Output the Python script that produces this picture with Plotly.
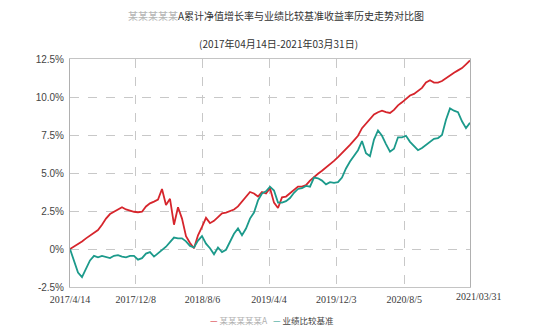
import pandas as pd
import plotly.graph_objects as go

start_date = "2017-04-14"
end_date = "2021-03-31"
n_points = 101
dates = pd.date_range(start_date, end_date, periods=n_points)

fund_name = "某某某某某A"
bench_name = "业绩比较基准"

fund_values = [
    0.0, 0.15, 0.35, 0.5, 0.7, 0.9, 1.05, 1.25, 1.6, 2.0,
    2.3, 2.45, 2.6, 2.75, 2.6, 2.5, 2.45, 2.42, 2.45, 2.8,
    3.0, 3.12, 3.25, 3.95, 2.9, 3.3, 1.6, 2.75, 2.0, 0.85,
    0.4, 0.05, 0.9, 1.45, 2.05, 1.7, 1.85, 2.1, 2.35, 2.4,
    2.5, 2.6, 2.8, 3.1, 3.4, 3.75, 3.65, 3.45, 3.75, 3.65,
    4.0, 3.05, 2.7, 3.4, 3.45, 3.65, 3.9, 4.1, 4.1, 4.2,
    4.5, 4.75, 4.95, 5.15, 5.35, 5.55, 5.8, 6.05, 6.3, 6.55,
    6.85, 7.15, 7.45, 7.95, 8.25, 8.6, 8.85, 9.0, 9.1, 9.0,
    8.95, 9.15, 9.45, 9.65, 9.85, 10.1, 10.2, 10.4, 10.6, 10.95,
    11.1, 10.95, 10.95, 11.05, 11.25, 11.45, 11.6, 11.75, 11.9, 12.15,
    12.4,
]

bench_values = [
    0.0, -0.8, -1.55, -1.85, -1.35, -0.75, -0.45, -0.55, -0.45, -0.55,
    -0.6, -0.45, -0.4, -0.5, -0.55, -0.45, -0.45, -0.7, -0.6, -0.3,
    -0.2, -0.5, -0.3, -0.1, 0.15, 0.45, 0.75, 0.7, 0.7, 0.5,
    0.2, 0.1, 0.55, 0.85, 0.35, 0.05, -0.35, 0.1, -0.2, -0.05,
    0.5, 1.0, 1.35, 0.9, 1.35, 2.0, 2.4, 3.2, 3.65, 3.8,
    4.1, 3.85, 3.05, 3.05, 3.15, 3.35, 3.7, 3.95, 4.0, 4.15,
    4.1, 4.7, 4.65, 4.5, 4.25, 4.4, 4.35, 4.4, 4.7, 5.3,
    5.75, 6.1, 6.5, 7.1, 6.3, 6.1, 7.2, 7.8, 7.45, 6.9,
    6.4, 6.6, 7.35, 7.35, 7.45, 7.05, 6.75, 6.5, 6.65, 6.85,
    7.05, 7.25, 7.3, 7.5, 8.5, 9.25, 9.1, 9.0, 8.4, 7.95,
    8.3,
]

x_tick_dates = ["2017-04-14", "2017-12-08", "2018-08-06", "2019-04-04",
                "2019-12-03", "2020-08-05"]
x_tick_labels = ["2017/4/14", "2017/12/8", "2018/8/6", "2019/4/4",
                 "2019/12/3", "2020/8/5"]
last_tick_label = "2021/03/31"

y_tick_vals = [-2.5, 0, 2.5, 5.0, 7.5, 10.0, 12.5]
y_tick_labels = ["-2.5%", "0%", "2.5%", "5.0%", "7.5%", "10.0%", "12.5%"]

RED = "#d6252c"
TEAL = "#1c9a8b"
CJK = "Noto Sans CJK SC, sans-serif"

fig = go.Figure()
fig.add_trace(go.Scatter(x=dates, y=fund_values, mode="lines", name=fund_name,
                         line=dict(color=RED, width=1.8), showlegend=False))
fig.add_trace(go.Scatter(x=dates, y=bench_values, mode="lines", name=bench_name,
                         line=dict(color=TEAL, width=1.8), showlegend=False))

fig.update_layout(
    width=553, height=333,
    margin=dict(l=70, r=83, t=59, b=46),
    paper_bgcolor="white", plot_bgcolor="white",
    xaxis=dict(
        type="date", range=[start_date, end_date],
        tickmode="array", tickvals=x_tick_dates, ticktext=x_tick_labels,
        showgrid=True, gridcolor="#c8c8c8", griddash="dash", gridwidth=1,
        showline=True, linecolor="#c4c4c4", linewidth=1, mirror=True,
        ticks="", zeroline=False, ticklabelstandoff=3,
        tickfont=dict(family="Liberation Serif, serif", size=10, color="#3a3a3a"),
    ),
    yaxis=dict(
        range=[-2.5, 12.5], tickmode="array", tickvals=y_tick_vals,
        ticktext=y_tick_labels,
        showgrid=True, gridcolor="#c8c8c8", griddash="dash", gridwidth=1,
        showline=True, linecolor="#b0b0b0", linewidth=1, mirror=True,
        ticks="", zeroline=False, ticklabelstandoff=3,
        tickfont=dict(family="Liberation Sans Narrow, Arial Narrow, Liberation Sans, sans-serif",
                      size=10, color="#444"),
    ),
)

# Title lines
fig.add_annotation(
    text="<span style='color:#b5b5b5'>" + fund_name[:-1] + "</span>" + "A累计净值增长率与业绩比较基准收益率历史走势对比图",
    xref="paper", yref="paper", x=0.515, y=1.189, showarrow=False,
    xanchor="center", yanchor="middle",
    font=dict(family=CJK, size=10, color="#333"))
fig.add_annotation(
    text="(2017年04月14日-2021年03月31日)",
    xref="paper", yref="paper", x=0.52, y=1.07, showarrow=False,
    xanchor="center", yanchor="middle",
    font=dict(family=CJK, size=10, color="#333"))

# Last x tick label (slightly offset like the original)
fig.add_annotation(
    text=last_tick_label, xref="x", yref="paper", x=end_date, y=-0.04,
    xshift=9, showarrow=False, xanchor="center", yanchor="middle",
    font=dict(family="Liberation Serif, serif", size=10, color="#3a3a3a"))

# Legend row
fig.add_annotation(
    text="<span style='color:%s'>—</span> <span style='color:#b0b0b0'>%s</span>   "
         "<span style='color:%s'>—</span> %s" % (RED, fund_name, TEAL, bench_name),
    xref="paper", yref="paper", x=0.505, y=-0.145, showarrow=False,
    xanchor="center", yanchor="middle",
    font=dict(family=CJK, size=8.5, color="#444"))

fig.write_html("out.html")
